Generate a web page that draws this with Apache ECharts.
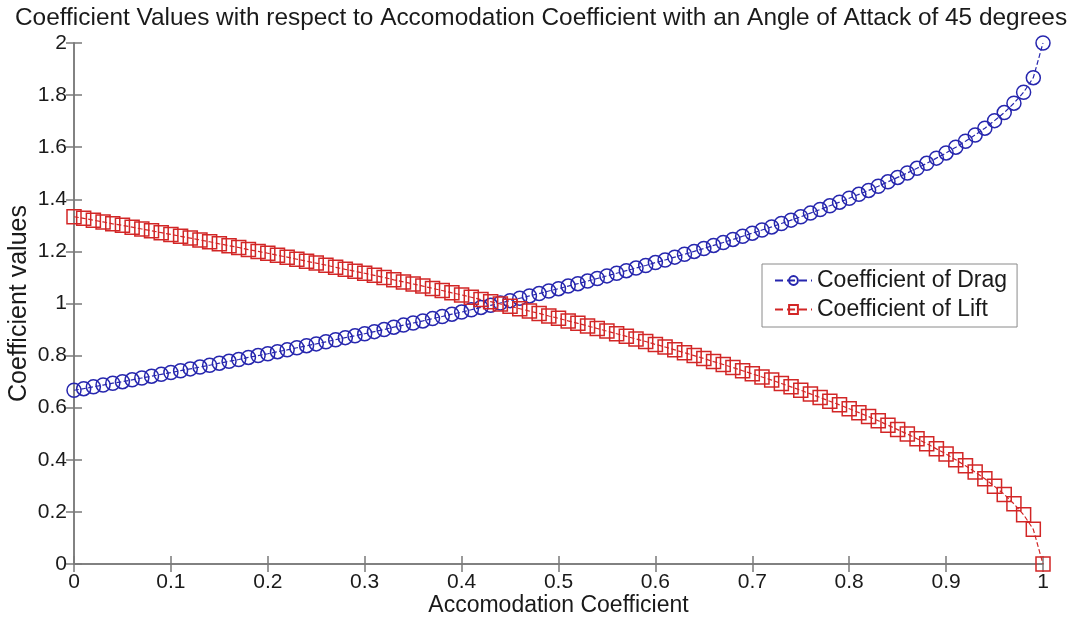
<!DOCTYPE html>
<html>
<head>
<meta charset="utf-8">
<script src="https://cdn.jsdelivr.net/npm/echarts@6/dist/echarts.min.js"></script>
<style>html,body{margin:0;padding:0;background:#fff}#c{width:1077px;height:619px}</style>
</head>
<body>
<div id="c"></div>
<script>
var accomodation = [0.00,0.01,0.02,0.03,0.04,0.05,0.06,0.07,0.08,0.09,
0.10,0.11,0.12,0.13,0.14,0.15,0.16,0.17,0.18,0.19,
0.20,0.21,0.22,0.23,0.24,0.25,0.26,0.27,0.28,0.29,
0.30,0.31,0.32,0.33,0.34,0.35,0.36,0.37,0.38,0.39,
0.40,0.41,0.42,0.43,0.44,0.45,0.46,0.47,0.48,0.49,
0.50,0.51,0.52,0.53,0.54,0.55,0.56,0.57,0.58,0.59,
0.60,0.61,0.62,0.63,0.64,0.65,0.66,0.67,0.68,0.69,
0.70,0.71,0.72,0.73,0.74,0.75,0.76,0.77,0.78,0.79,
0.80,0.81,0.82,0.83,0.84,0.85,0.86,0.87,0.88,0.89,
0.90,0.91,0.92,0.93,0.94,0.95,0.96,0.97,0.98,0.99,
1.00];
var dragValues = [0.667,0.673,0.680,0.687,0.694,0.700,0.707,0.714,0.721,0.728,
0.735,0.742,0.749,0.756,0.763,0.771,0.778,0.785,0.793,0.800,
0.807,0.815,0.822,0.830,0.838,0.845,0.853,0.861,0.869,0.876,
0.884,0.892,0.900,0.909,0.917,0.925,0.933,0.942,0.950,0.959,
0.967,0.976,0.985,0.993,1.002,1.011,1.020,1.029,1.038,1.048,
1.057,1.067,1.076,1.086,1.096,1.106,1.116,1.126,1.136,1.146,
1.157,1.167,1.178,1.189,1.200,1.211,1.223,1.234,1.246,1.258,
1.270,1.282,1.294,1.307,1.320,1.333,1.347,1.361,1.375,1.389,
1.404,1.419,1.434,1.450,1.467,1.484,1.501,1.519,1.538,1.558,
1.578,1.600,1.623,1.647,1.673,1.702,1.733,1.769,1.811,1.867,
2.000];
var liftValues = [1.333,1.327,1.320,1.313,1.306,1.300,1.293,1.286,1.279,1.272,
1.265,1.258,1.251,1.244,1.237,1.229,1.222,1.215,1.207,1.200,
1.193,1.185,1.178,1.170,1.162,1.155,1.147,1.139,1.131,1.124,
1.116,1.108,1.100,1.091,1.083,1.075,1.067,1.058,1.050,1.041,
1.033,1.024,1.015,1.007,0.998,0.989,0.980,0.971,0.962,0.952,
0.943,0.933,0.924,0.914,0.904,0.894,0.884,0.874,0.864,0.854,
0.843,0.833,0.822,0.811,0.800,0.789,0.777,0.766,0.754,0.742,
0.730,0.718,0.706,0.693,0.680,0.667,0.653,0.639,0.625,0.611,
0.596,0.581,0.566,0.550,0.533,0.516,0.499,0.481,0.462,0.442,
0.422,0.400,0.377,0.353,0.327,0.298,0.267,0.231,0.189,0.133,
0.000];
var xTickLabels = ['0','0.1','0.2','0.3','0.4','0.5','0.6','0.7','0.8','0.9','1'];
var yTickLabels = ['0','0.2','0.4','0.6','0.8','1','1.2','1.4','1.6','1.8','2'];

var FONT = '"Liberation Sans", Arial, sans-serif';
var AX = '#7a7a7a';
var BLUE = '#2626ae';
var RED = '#d22626';
function pairs(ys){ return accomodation.map(function(x,i){ return [x, ys[i]]; }); }
function fmt(labels, step){ return function(v){ var i = Math.round(v/step); return labels[i] !== undefined ? labels[i] : ''; }; }

var chart = echarts.init(document.getElementById('c'), null, {renderer:'canvas'});
var axisLineCfg = {show:true, lineStyle:{color:AX, width:1.5}};
var tickCfg = {show:true, inside:true, length:8, lineStyle:{color:AX, width:1.5}};
chart.setOption({
  backgroundColor:'#fff',
  animation:false,
  title:{text:'Coefficient Values with respect to Accomodation Coefficient with an Angle of Attack of 45 degrees',
    left:10, top:1, textStyle:{fontFamily:FONT, fontSize:24.4, fontWeight:'normal', color:'#1a1a1a'}},
  grid:{left:74, right:34, top:43, bottom:55, outerBoundsMode:'none', containLabel:false},
  legend:{orient:'vertical', left:762, top:264, itemWidth:37, itemHeight:11, itemGap:6,
    padding:[5,10,6,12], borderColor:'#8a8a8a', borderWidth:1, backgroundColor:'#fff',
    textStyle:{fontFamily:FONT, fontSize:23, color:'#1a1a1a'},
    data:['Coefficient of Drag','Coefficient of Lift']},
  xAxis:[{type:'value', min:0, max:1, interval:0.1, position:'bottom',
      name:'Accomodation Coefficient', nameLocation:'middle', nameGap:30, nameMoveOverlap:false,
      nameTextStyle:{fontFamily:FONT, fontSize:23, color:'#1a1a1a'},
      axisLine:axisLineCfg, axisTick:tickCfg, splitLine:{show:false},
      axisLabel:{fontFamily:FONT, fontSize:21, color:'#1a1a1a', margin:8, formatter:fmt(xTickLabels,0.1)}},
    {type:'value', min:0, max:1, interval:0.1, position:'top',
      axisLine:axisLineCfg, axisTick:tickCfg, splitLine:{show:false}, axisLabel:{show:false}}],
  yAxis:[{type:'value', min:0, max:2, interval:0.2, position:'left',
      name:'Coefficient values', nameLocation:'middle', nameGap:42, nameMoveOverlap:false,
      nameTextStyle:{fontFamily:FONT, fontSize:25, color:'#1a1a1a'},
      axisLine:axisLineCfg, axisTick:tickCfg, splitLine:{show:false},
      axisLabel:{fontFamily:FONT, fontSize:21, color:'#1a1a1a', margin:7, formatter:fmt(yTickLabels,0.2)}},
    {type:'value', min:0, max:2, interval:0.2, position:'right',
      axisLine:axisLineCfg, axisTick:tickCfg, splitLine:{show:false}, axisLabel:{show:false}}],
  series:[
    {name:'Coefficient of Drag', type:'line', data:pairs(dragValues), symbol:'circle', symbolSize:14,
      showSymbol:true, color:BLUE, lineStyle:{type:'dashed', width:1.2, color:BLUE},
      itemStyle:{color:'rgba(255,255,255,0)', borderWidth:1.5, borderColor:BLUE}},
    {name:'Coefficient of Lift', type:'line', data:pairs(liftValues), symbol:'rect', symbolSize:14,
      showSymbol:true, color:RED, lineStyle:{type:'dashed', width:1.2, color:RED},
      itemStyle:{color:'rgba(255,255,255,0)', borderWidth:1.5, borderColor:RED}}
  ]
});
</script>
</body>
</html>
